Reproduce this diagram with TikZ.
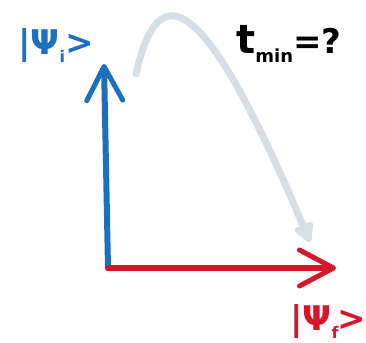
\documentclass[tikz,border=0pt]{standalone}
\usepackage{fontspec}
\setmainfont{DejaVu Sans}
\usetikzlibrary{arrows.meta}
\definecolor{kblue}{RGB}{28,112,192}
\definecolor{kred}{RGB}{214,22,44}
\definecolor{kgray}{RGB}{214,224,228}
\tikzset{
  vec/.style={line width=6pt, line cap=round, line join=round,
    -{Straight Barb[length=34pt,width=36pt,line width=5pt,round]}},
  evo/.style={draw=kgray, line width=7pt, line cap=round,
    -{Triangle[length=22pt,width=22pt,round]}},
  lbl/.style={font=\bfseries\fontsize{34}{34}\selectfont, inner sep=0pt}
}
\begin{document}
\begin{tikzpicture}[x=1pt,y=-1pt]
\fill[white] (0,0) rectangle (366,342);
\useasboundingbox (0,0) rectangle (366,342);
\coordinate (o) at (108,268);
\coordinate (ti) at (104,64);
\coordinate (tf) at (336,268);
\coordinate (s) at (136,74);
\coordinate (e) at (310,242);
\draw[vec, draw=kblue] (o) -- (ti);
\draw[vec, draw=kred] (o) -- (tf);
\draw[evo] (s) .. controls (158,-24) and (202,-14) .. (e);
\node[lbl, text=kblue, anchor=west] (psii) at (18,46) {|Ψ\raisebox{-0.4ex}{\fontsize{16}{16}\selectfont i}\kern1pt>};
\node[lbl, text=kred, anchor=west] (psif) at (290,322) {|Ψ\raisebox{-0.4ex}{\fontsize{16}{16}\selectfont f}\kern-1pt>};
\node[lbl, text=black, anchor=west] (tmin) at (236,44) {\fontsize{40}{40}\selectfont t\raisebox{-0.45ex}{\fontsize{18}{18}\selectfont min}\fontsize{34}{34}\selectfont =?};
\end{tikzpicture}
\end{document}
